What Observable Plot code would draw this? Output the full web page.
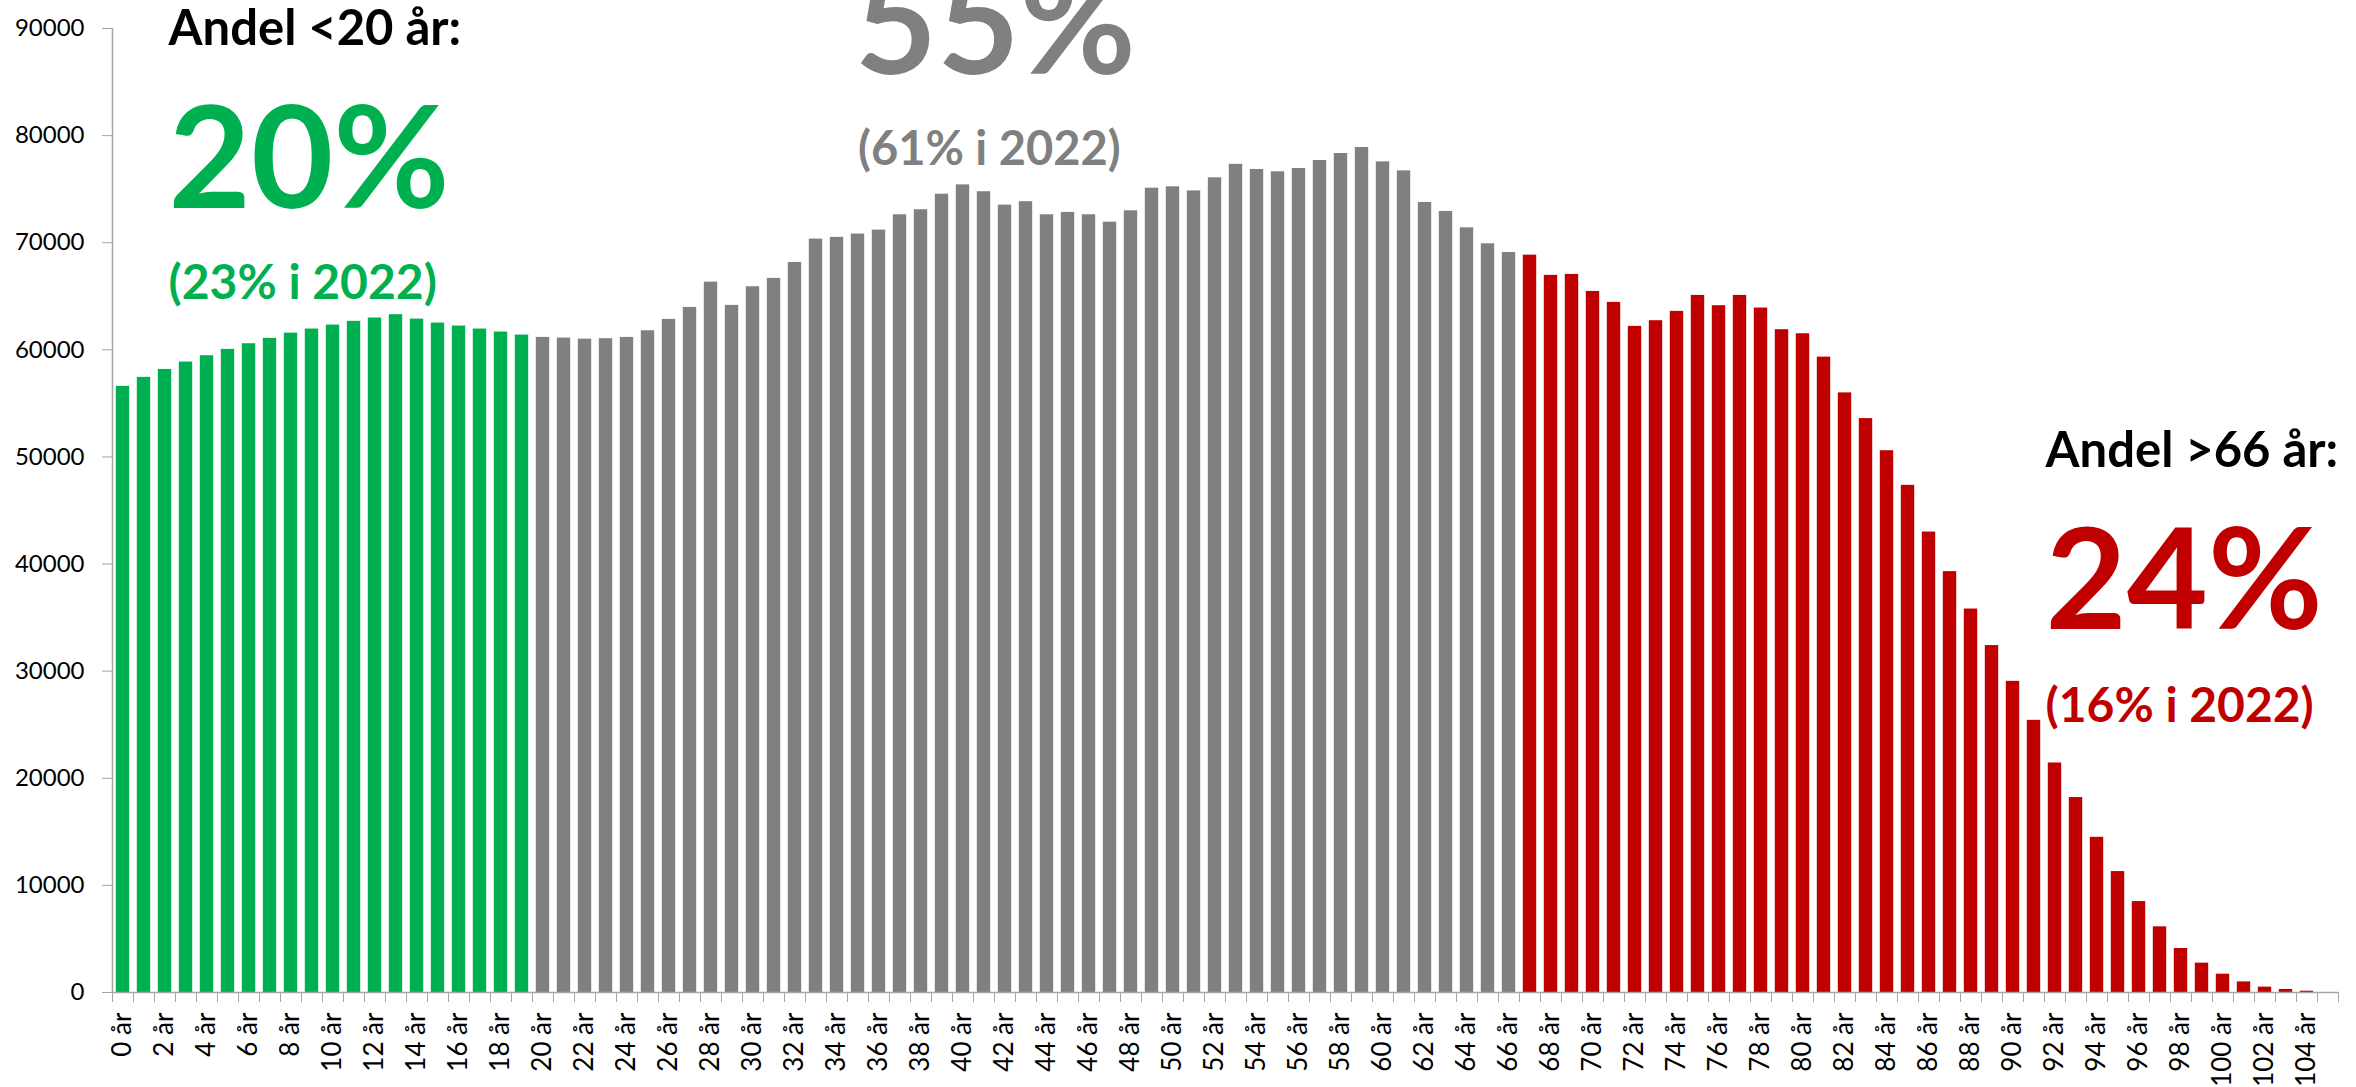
<!DOCTYPE html>
<html>
<head>
<meta charset="utf-8">
<script src="https://cdn.jsdelivr.net/npm/d3@7"></script>
<script src="https://cdn.jsdelivr.net/npm/@observablehq/plot@0.6"></script>
<style>
  html, body { margin: 0; padding: 0; background: #ffffff; overflow: hidden; }
  #chart svg { display: block; }
</style>
</head>
<body>
<div id="chart"></div>
<script>
// ---- Data ----
const ages = [
  0,1,2,3,4,5,6,7,8,9,10,11,12,13,14,15,16,17,18,19,
  20,21,22,23,24,25,26,27,28,29,30,31,32,33,34,35,36,37,38,39,
  40,41,42,43,44,45,46,47,48,49,50,51,52,53,54,55,56,57,58,59,
  60,61,62,63,64,65,66,67,68,69,70,71,72,73,74,75,76,77,78,79,
  80,81,82,83,84,85,86,87,88,89,90,91,92,93,94,95,96,97,98,99,
  100,101,102,103,104,105
];
const population = [
  56590,57430,58170,58860,59450,60040,60570,61070,61560,61940,
  62310,62660,62970,63280,62870,62500,62220,61940,61660,61380,
  61160,61100,61000,61040,61160,61780,62840,63960,66320,64150,
  65890,66670,68160,70340,70500,70810,71180,72610,73080,74530,
  75400,74760,73510,73830,72610,72830,72610,71920,72980,75090,
  75220,74840,76060,77320,76840,76620,76930,77680,78330,78890,
  77550,76710,73760,72920,71390,69900,69090,68840,66950,67040,
  65450,64430,62190,62720,63590,65080,64120,65080,63900,61880,
  61500,59320,55980,53580,50580,47350,42990,39290,35800,32390,
  29050,25410,21430,18200,14490,11290,8490,6130,4110,2740,
  1710,990,500,280,120,0
];
const groupNames = ["Under 20 år", "20-66 år", "Over 66 år"];
const groupColors = ["#00B050", "#808080", "#C00000"];
const yTickValues = [0,10000,20000,30000,40000,50000,60000,70000,80000,90000];
const labelledAges = [0,2,4,6,8,10,12,14,16,18,20,22,24,26,28,30,32,34,36,38,40,42,44,46,48,50,
  52,54,56,58,60,62,64,66,68,70,72,74,76,78,80,82,84,86,88,90,92,94,96,98,100,102,104];
const tickLabels = labelledAges.map(a => `${a} år`);

// annotation texts
const annoTexts = ["Andel <20 år:", "20%", "(23% i 2022)", "55%", "(61% i 2022)", "Andel >66 år:", "24%", "(16% i 2022)"];
const annoGroups = ["title", 0, 0, 1, 1, "title", 2, 2];

// ---- layout of the annotations (in data units) ----
const annoLayout = [
  {x: 2.67, y: 88500, size: 49},
  {x: 2.67, y: 73200, size: 142},
  {x: 2.67, y: 64780, size: 48},
  {x: 35.35, y: 85710, size: 142},
  {x: 35.5, y: 77220, size: 47},
  {x: 92.05, y: 49090, size: 49},
  {x: 92.05, y: 33910, size: 140},
  {x: 92.05, y: 25230, size: 48}
];

const groupOf = a => a < 20 ? groupNames[0] : a <= 66 ? groupNames[1] : groupNames[2];
const data = ages.map((a, i) => ({age: a, value: population[i], group: groupOf(a)}));
const annotations = annoTexts.map((t, i) => ({
  text: t,
  x: annoLayout[i].x,
  y: annoLayout[i].y,
  size: annoLayout[i].size,
  color: annoGroups[i] === "title" ? "#000000" : groupColors[annoGroups[i]]
}));

const axisGray = "#a6a6a6";
const boundaries = ages.concat([ages.length]);
const labelPositions = labelledAges.map(a => a + 0.5);

const chart = Plot.plot({
  width: 2356,
  height: 1087,
  marginLeft: 112,
  marginRight: 18,
  marginTop: 28,
  marginBottom: 95,
  style: {fontFamily: "Lato, 'Open Sans', sans-serif", background: "#ffffff", color: "#000000"},
  x: {type: "linear", domain: [0, ages.length], axis: null},
  y: {domain: [0, 90000], axis: null},
  color: {domain: groupNames, range: groupColors},
  marks: [
    Plot.rectY(data, {x: "age", interval: 1, y: "value", fill: "group", insetLeft: 3.8, insetRight: 3.8}),
    Plot.ruleX([0], {stroke: axisGray, strokeWidth: 1.5}),
    Plot.ruleY([0], {stroke: axisGray, strokeWidth: 1.5}),
    Plot.axisY({ticks: yTickValues, tickFormat: d3.format("d"), tickSize: 10, tickPadding: 18,
      fontSize: 24, stroke: axisGray, fill: "#000000"}),
    Plot.axisX({ticks: boundaries, tickFormat: () => "", tickSize: 10, stroke: axisGray}),
    Plot.axisX({ticks: labelPositions, tickFormat: d => tickLabels[labelPositions.indexOf(d)],
      tickRotate: -90, tickSize: 0, tickPadding: 20, fontSize: 26, fill: "#000000"}),
    Plot.text(annotations, {x: "x", y: "y", text: "text", fill: "color", fontSize: "size",
      fontWeight: "bold", textAnchor: "start", lineAnchor: "bottom"})
  ]
});
document.getElementById("chart").appendChild(chart);
</script>
</body>
</html>
